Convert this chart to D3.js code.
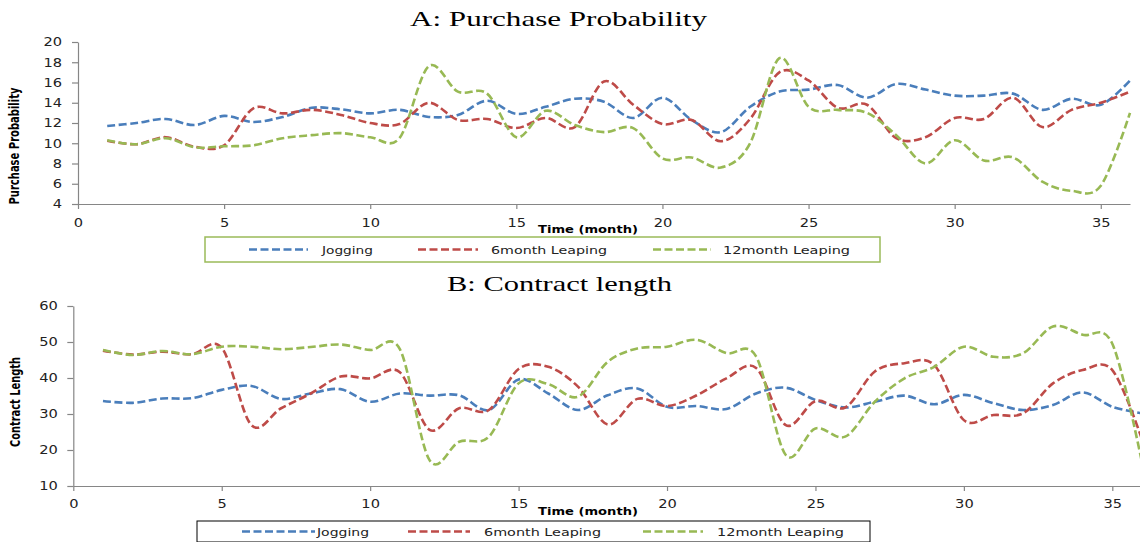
<!DOCTYPE html>
<html>
<head>
<meta charset="utf-8">
<script src="https://cdn.jsdelivr.net/npm/d3@7"></script>
<style>
  body { margin: 0; background: #fff; }
  svg { display: block; }
</style>
</head>
<body>
<script>
// chart size
var w = 1140;
var h = 542;

// data
var months = d3.range(1, 37);
var seriesNames = ["Jogging", "6month Leaping", "12month Leaping"];
var colors = ["#4a7ebb", "#be4b48", "#98b954"];

var probJogging = [11.7, 12.0, 12.4, 11.8, 12.7, 12.1, 12.6, 13.5, 13.35, 12.95, 13.3, 12.6,
                   12.8, 14.2, 12.9, 13.6, 14.4, 14.1, 12.5, 14.5, 12.3, 11.1, 13.6, 15.1,
                   15.3, 15.75, 14.5, 15.85, 15.3, 14.7, 14.7, 14.9, 13.3, 14.4, 13.8, 16.2];
var prob6month = [10.25, 9.9, 10.6, 9.65, 9.8, 13.45, 12.95, 13.3, 12.8, 12.0, 11.9, 14.0,
                  12.3, 12.4, 11.5, 12.5, 11.6, 16.1, 13.8, 11.9, 12.3, 10.2, 12.4, 17.0,
                  16.2, 13.5, 13.8, 10.5, 10.6, 12.5, 12.4, 14.5, 11.6, 13.3, 14.0, 15.1];
var prob12month = [10.3, 9.9, 10.5, 9.6, 9.7, 9.8, 10.5, 10.8, 11.0, 10.6, 10.5, 17.6,
                   15.1, 14.9, 10.6, 13.2, 11.8, 11.1, 11.5, 8.5, 8.6, 7.6, 10.0, 18.4,
                   13.6, 13.3, 13.0, 10.8, 8.0, 10.3, 8.3, 8.6, 6.2, 5.3, 5.8, 13.0];

var lenJogging = [33.6, 33.1, 34.3, 34.4, 36.7, 37.8, 34.2, 35.7, 36.9, 33.4, 35.7, 35.1,
                  35.2, 31.1, 39.6, 35.7, 31.1, 35.2, 37.1, 32.0, 32.2, 31.4, 35.7, 37.3,
                  33.9, 31.8, 33.4, 35.1, 32.7, 35.3, 33.0, 31.1, 32.5, 36.0, 32.0, 30.2];
var len6month = [47.6, 46.5, 47.3, 46.6, 48.4, 26.9, 31.6, 35.7, 40.4, 39.9, 41.6, 25.6,
                 31.6, 31.1, 42.5, 43.1, 37.6, 27.1, 34.2, 32.2, 35.2, 39.9, 42.8, 26.9,
                 33.6, 31.8, 41.8, 44.1, 43.6, 28.3, 29.7, 30.2, 38.5, 42.2, 42.2, 23.0];
var len12month = [47.8, 46.4, 47.5, 46.6, 48.7, 48.7, 48.0, 48.6, 49.3, 47.8, 48.0, 17.2,
                  22.3, 23.7, 38.5, 38.3, 34.8, 44.5, 48.2, 48.7, 50.6, 46.9, 46.0, 18.6,
                  26.0, 23.7, 33.4, 39.9, 43.1, 48.7, 45.9, 46.9, 54.3, 52.0, 49.5, 16.5];

var xTicks = [0, 5, 10, 15, 20, 25, 30, 35];
var probTicks = [4, 6, 8, 10, 12, 14, 16, 18, 20];
var lengthTicks = [10, 20, 30, 40, 50, 60];

var svg = d3.select("body").append("svg")
            .attr("width", w)
            .attr("height", h);

// layout of the two panels
var panels = [
  {
    title: "A: Purchase Probability", titleX: 410, titleY: 26, titleLen: 297,
    ylabel: "Purchase Probability", ylabelX: 19, ylabelY: 146, ylabelLen: 117,
    series: [probJogging, prob6month, prob12month],
    yDomain: [4, 20], yTicks: probTicks,
    left: 78, right: 1130, top: 42, bottom: 204,
    ytickPad: 10, xtickPad: 9.5,
    timeX: 538, timeY: 233,
    legend: { x: 205, y: 237, w: 675, h: 25, stroke: "#9bbb59", sw: 1.5,
              lines: [[249, 308], [418, 478], [653, 711]],
              texts: [[322, 51], [491, 116], [723, 127]] }
  },
  {
    title: "B: Contract length", titleX: 447, titleY: 291, titleLen: 225,
    ylabel: "Contract Length", ylabelX: 20, ylabelY: 402, ylabelLen: 90,
    series: [lenJogging, len6month, len12month],
    yDomain: [10, 60], yTicks: lengthTicks,
    left: 73.3, right: 1142, top: 306, bottom: 486,
    ytickPad: 9.5, xtickPad: 8.5,
    timeX: 538, timeY: 515,
    legend: { x: 197, y: 521, w: 673, h: 21, stroke: "#000", sw: 1,
              lines: [[242, 315], [408, 470], [643, 703]],
              texts: [[317, 52], [484, 117], [717, 127]] }
  }
];

panels.forEach(function(p) {
  drawPanel(p);
});

function drawPanel(p) {
  var x = d3.scaleLinear().domain([0, 36]).range([p.left, p.right]);
  var y = d3.scaleLinear().domain(p.yDomain).range([p.bottom, p.top]);

  // title
  svg.append("text")
     .attr("x", p.titleX)
     .attr("y", p.titleY)
     .attr("textLength", p.titleLen)
     .attr("lengthAdjust", "spacingAndGlyphs")
     .style("font-family", "'Liberation Serif', serif")
     .style("font-size", "22px")
     .style("fill", "#000")
     .text(p.title);

  // y axis
  var yAxis = svg.append("g")
     .attr("transform", "translate(" + p.left + ",0)")
     .call(d3.axisLeft(y).tickValues(p.yTicks).tickSize(6).tickSizeOuter(0).tickPadding(p.ytickPad));

  // x axis
  var xAxis = svg.append("g")
     .attr("transform", "translate(0," + p.bottom + ")")
     .call(d3.axisBottom(x).tickValues(xTicks).tickSize(5).tickSizeOuter(0).tickPadding(p.xtickPad));

  [yAxis, xAxis].forEach(function(ax) {
    ax.select(".domain").attr("stroke", "#868686").attr("stroke-width", 1.2);
    ax.selectAll(".tick line").attr("stroke", "#868686").attr("stroke-width", 1.2);
    ax.selectAll(".tick text")
      .attr("fill", "#222")
      .style("font-family", "'DejaVu Sans', sans-serif")
      .style("font-size", "12px")
      .attr("textLength", function(d) { return String(d).length * 9.3; })
      .attr("lengthAdjust", "spacingAndGlyphs");
  });

  // y label
  svg.append("text")
     .attr("transform", "translate(" + p.ylabelX + "," + p.ylabelY + ") scale(1.35,1) rotate(-90)")
     .attr("text-anchor", "middle")
     .attr("textLength", p.ylabelLen)
     .attr("lengthAdjust", "spacingAndGlyphs")
     .style("font-family", "'DejaVu Sans', sans-serif")
     .style("font-size", "10px")
     .style("font-weight", "bold")
     .text(p.ylabel);

  // x label
  svg.append("text")
     .attr("x", p.timeX)
     .attr("y", p.timeY)
     .attr("textLength", 100)
     .attr("lengthAdjust", "spacingAndGlyphs")
     .style("font-family", "'DejaVu Sans', sans-serif")
     .style("font-size", "11px")
     .style("font-weight", "bold")
     .text("Time (month)");

  // smooth dashed lines
  var line = d3.line()
               .x(function(d, i) { return x(months[i]); })
               .y(function(d) { return y(d); })
               .curve(d3.curveCardinal.tension(0));

  p.series.forEach(function(values, i) {
    svg.append("path")
       .datum(values)
       .attr("d", line)
       .attr("fill", "none")
       .attr("stroke", colors[i])
       .attr("stroke-width", 2.6)
       .attr("stroke-dasharray", "8,3.5");
  });

  // legend
  var lg = p.legend;
  svg.append("rect")
     .attr("x", lg.x)
     .attr("y", lg.y)
     .attr("width", lg.w)
     .attr("height", lg.h)
     .attr("fill", "#fff")
     .attr("stroke", lg.stroke)
     .attr("stroke-width", lg.sw);

  var cy = lg.y + lg.h / 2;
  seriesNames.forEach(function(name, i) {
    svg.append("line")
       .attr("x1", lg.lines[i][0])
       .attr("x2", lg.lines[i][1])
       .attr("y1", cy)
       .attr("y2", cy)
       .attr("stroke", colors[i])
       .attr("stroke-width", 2.6)
       .attr("stroke-dasharray", "8,3.5");

    svg.append("text")
       .attr("x", lg.texts[i][0])
       .attr("y", cy + 4)
       .attr("textLength", lg.texts[i][1])
       .attr("lengthAdjust", "spacingAndGlyphs")
       .style("font-family", "'DejaVu Sans', sans-serif")
       .style("font-size", "11px")
       .style("fill", "#222")
       .text(name);
  });
}
</script>
</body>
</html>
